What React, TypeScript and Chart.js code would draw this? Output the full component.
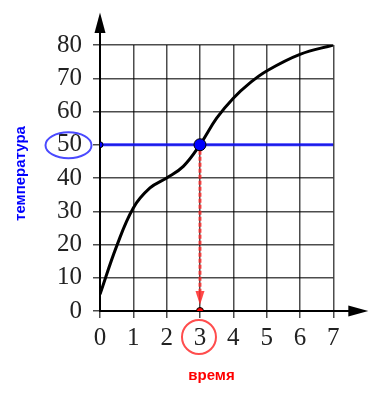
import React, { useEffect, useRef } from "react";
import { Chart, registerables } from "chart.js";

Chart.register(...registerables);

// ---- data ----
const timeValues = [0, 0.5, 1, 1.5, 2, 2.5, 3, 3.5, 4, 4.5, 5, 6, 7];
const temperatureValues = [5, 19.5, 31, 37, 40, 43.5, 50, 58, 64, 68.6, 72.2, 77.2, 80];
const xTickValues = [0, 1, 2, 3, 4, 5, 6, 7];
const yTickValues = [0, 10, 20, 30, 40, 50, 60, 70, 80];
const levelTemperature = 50;
const answerTime = 3;
const dashEndTemperature = 6;
const arrowTipTemperature = 1.8;
const xTitle = "время";
const yTitle = "температура";

const overlayPlugin = {
  id: "overlay",
  afterDatasetsDraw(chart: any) {
    const { ctx, chartArea, scales } = chart;
    const xs = scales.x;
    const ys = scales.y;
    const x0 = xs.getPixelForValue(0);
    const y0 = ys.getPixelForValue(0);
    ctx.save();
    // axis extensions + arrowheads
    ctx.strokeStyle = "#000";
    ctx.fillStyle = "#000";
    ctx.lineWidth = 2;
    ctx.beginPath();
    ctx.moveTo(x0, chartArea.top);
    ctx.lineTo(x0, chartArea.top - 14);
    ctx.moveTo(chartArea.right, y0);
    ctx.lineTo(chartArea.right + 18, y0);
    ctx.stroke();
    ctx.beginPath();
    ctx.moveTo(x0, chartArea.top - 32.5);
    ctx.lineTo(x0 - 5.5, chartArea.top - 12);
    ctx.lineTo(x0 + 5.5, chartArea.top - 12);
    ctx.closePath();
    ctx.fill();
    ctx.beginPath();
    ctx.moveTo(chartArea.right + 35, y0);
    ctx.lineTo(chartArea.right + 15, y0 - 5.5);
    ctx.lineTo(chartArea.right + 15, y0 + 5.5);
    ctx.closePath();
    ctx.fill();

    // red arrowhead
    const ax = xs.getPixelForValue(answerTime);
    const aBase = ys.getPixelForValue(dashEndTemperature);
    const aTip = ys.getPixelForValue(arrowTipTemperature);
    ctx.fillStyle = "rgba(255,40,40,0.85)";
    ctx.beginPath();
    ctx.moveTo(ax, aTip);
    ctx.lineTo(ax - 4.5, aBase);
    ctx.lineTo(ax + 4.5, aBase);
    ctx.closePath();
    ctx.fill();

    // ellipse around y label 50
    const ly = ys.getPixelForValue(levelTemperature);
    ctx.strokeStyle = "#4a4aff";
    ctx.lineWidth = 2;
    ctx.beginPath();
    ctx.ellipse(chartArea.left - 31.5, ly + 0.5, 23, 13, 0, 0, Math.PI * 2);
    ctx.stroke();

    // circle around x label 3
    ctx.strokeStyle = "#ff4d4d";
    ctx.beginPath();
    ctx.arc(ax - 1, y0 + 26, 17, 0, Math.PI * 2);
    ctx.stroke();

    // titles
    ctx.textAlign = "center";
    ctx.textBaseline = "middle";
    ctx.font = 'bold 15px "Liberation Sans", Arial, sans-serif';
    ctx.fillStyle = "#ff0000";
    ctx.fillText(xTitle, 211.5, 376);
    ctx.save();
    ctx.translate(21, 173.5);
    ctx.rotate(-Math.PI / 2);
    ctx.fillStyle = "#0000ff";
    ctx.fillText(yTitle, 0, 0);
    ctx.restore();
    ctx.restore();
  },
};

export default function App() {
  const ref = useRef<HTMLCanvasElement | null>(null);
  useEffect(() => {
    document.body.style.margin = "0";
    if (!ref.current) return;
    const tickFont = { family: '"Liberation Serif", "Times New Roman", serif', size: 25 };
    const chart = new Chart(ref.current, {
      type: "line",
      data: {
        datasets: [
          {
            type: "scatter",
            data: [
              { x: 0, y: levelTemperature },
              { x: answerTime, y: levelTemperature },
              { x: answerTime, y: 0 },
            ],
            pointRadius: [3, 6, 3.5],
            pointBackgroundColor: ["#0000ff", "#0000ff", "#ff0000"],
            pointBorderColor: "#000",
            pointBorderWidth: 1,
            showLine: false,
            order: 0,
          } as any,
          {
            data: [
              { x: answerTime, y: levelTemperature },
              { x: answerTime, y: dashEndTemperature },
            ],
            borderColor: "rgba(255,40,40,0.8)",
            borderWidth: 3,
            borderDash: [4, 2],
            pointRadius: 0,
            order: 1,
          },
          {
            data: [
              { x: 0, y: levelTemperature },
              { x: 7, y: levelTemperature },
            ],
            borderColor: "rgba(20,20,255,0.85)",
            borderWidth: 3,
            pointRadius: 0,
            order: 2,
          },
          {
            data: timeValues.map((t, i) => ({ x: t, y: temperatureValues[i] })),
            borderColor: "#000",
            borderWidth: 3,
            tension: 0.4,
            pointRadius: 0,
            order: 3,
          },
        ],
      },
      options: {
        responsive: false,
        animation: false,
        events: [],
        layout: { padding: { top: 45, left: 0, right: 53.7, bottom: 0 } },
        plugins: { legend: { display: false }, tooltip: { enabled: false } },
        scales: {
          x: {
            type: "linear",
            min: 0,
            max: 7,
            afterFit: (s: any) => {
              s.height = 84;
            },
            afterBuildTicks: (s: any) => {
              s.ticks = xTickValues.map((v) => ({ value: v }));
            },
            grid: { color: "rgba(0,0,0,0.7)", lineWidth: 1.5, tickLength: 7 },
            border: { color: "#000", width: 2 },
            ticks: { font: tickFont, color: "#222", padding: 5, maxRotation: 0 },
          },
          y: {
            type: "linear",
            min: 0,
            max: 80,
            afterFit: (s: any) => {
              s.width = 100;
            },
            afterBuildTicks: (s: any) => {
              s.ticks = yTickValues.map((v) => ({ value: v }));
            },
            grid: { color: "rgba(0,0,0,0.7)", lineWidth: 1.5, tickLength: 7 },
            border: { color: "#000", width: 2 },
            ticks: { font: tickFont, color: "#222", padding: 11 },
          },
        },
      },
      plugins: [overlayPlugin],
    });
    return () => chart.destroy();
  }, []);
  return <canvas ref={ref} width={387} height={395} style={{ display: "block" }} />;
}
